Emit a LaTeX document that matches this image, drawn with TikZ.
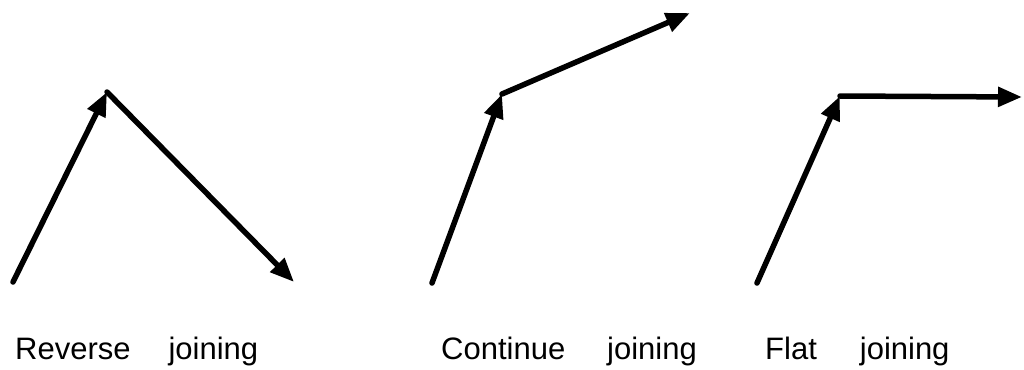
\documentclass[tikz,border=0pt]{standalone}
\usepackage{fontspec}
\setmainfont{Liberation Sans}
\usetikzlibrary{arrows.meta}
\begin{document}
\begin{tikzpicture}[x=1pt,y=-1pt,
  vec/.style={line width=5.5pt,-{Triangle[length=24pt,width=19pt]},line cap=round},
  lbl/.style={anchor=base west,inner sep=0pt,font=\fontsize{31}{36}\selectfont}]
\useasboundingbox (0,0) rectangle (1024,369);
% Reverse joining
\coordinate (rs) at (13,282);
\coordinate (ra) at (107,92);
\coordinate (re) at (294,282);
\draw[vec] (rs) -- (ra);
\draw[vec] (ra) -- (re);
% Continue joining
\coordinate (cs) at (432,283);
\coordinate (ca) at (502,94);
\coordinate (ce) at (690,13);
\draw[vec] (cs) -- (ca);
\draw[vec] (ca) -- (ce);
% Flat joining
\coordinate (fs) at (757,283);
\coordinate (fa) at (840,96);
\coordinate (fe) at (1022,97);
\draw[vec] (fs) -- (fa);
\draw[vec] (fa) -- (fe);
% labels
\node[lbl] (lr) at (15,359) {Reverse\hspace{38pt}joining};
\node[lbl] (lc) at (441,359) {Continue\hspace{42pt}joining};
\node[lbl] (lf) at (765,359) {Flat\hspace{43pt}joining};
\end{tikzpicture}
\end{document}
